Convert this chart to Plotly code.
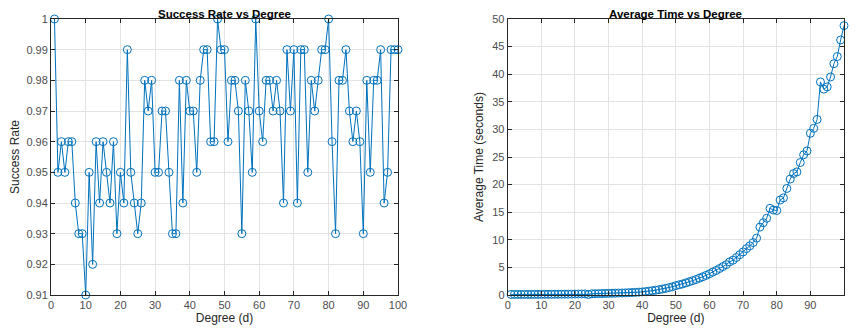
import plotly.graph_objects as go

degrees = list(range(1, 101))

success_rate = [
    1.00, 0.95, 0.96, 0.95, 0.96, 0.96, 0.94, 0.93, 0.93, 0.91,
    0.95, 0.92, 0.96, 0.94, 0.96, 0.95, 0.94, 0.96, 0.93, 0.95,
    0.94, 0.99, 0.95, 0.94, 0.93, 0.94, 0.98, 0.97, 0.98, 0.95,
    0.95, 0.97, 0.97, 0.95, 0.93, 0.93, 0.98, 0.94, 0.98, 0.97,
    0.97, 0.95, 0.98, 0.99, 0.99, 0.96, 0.96, 1.00, 0.99, 0.99,
    0.96, 0.98, 0.98, 0.97, 0.93, 0.98, 0.97, 0.95, 1.00, 0.97,
    0.96, 0.98, 0.98, 0.97, 0.98, 0.97, 0.94, 0.99, 0.97, 0.99,
    0.94, 0.99, 0.99, 0.95, 0.98, 0.97, 0.98, 0.99, 0.99, 1.00,
    0.96, 0.93, 0.98, 0.98, 0.99, 0.97, 0.96, 0.97, 0.96, 0.93,
    0.98, 0.95, 0.98, 0.98, 0.99, 0.94, 0.95, 0.99, 0.99, 0.99,
]

avg_time = [
    0.10, 0.10, 0.10, 0.10, 0.10, 0.10, 0.10, 0.11, 0.11, 0.11,
    0.12, 0.12, 0.12, 0.13, 0.13, 0.14, 0.15, 0.15, 0.16, 0.17,
    0.18, 0.19, 0.20, 0.08, 0.22, 0.23, 0.25, 0.26, 0.28, 0.29,
    0.31, 0.33, 0.35, 0.37, 0.39, 0.42, 0.45, 0.48, 0.52, 0.56,
    0.62, 0.70, 0.78, 0.87, 0.97, 1.08, 1.20, 1.35, 1.50, 1.70,
    1.85, 2.00, 2.20, 2.40, 2.60, 2.80, 3.05, 3.30, 3.55, 3.85,
    4.15, 4.45, 4.80, 5.15, 5.50, 6.00, 6.30, 6.80, 7.30, 7.80,
    8.40, 8.90, 9.50, 10.30, 12.30, 13.10, 13.90, 15.70, 15.40, 15.30,
    17.20, 17.60, 19.30, 21.00, 22.00, 22.30, 24.00, 25.40, 26.10, 29.30,
    30.20, 31.80, 38.60, 37.30, 37.70, 39.50, 41.90, 43.20, 46.20, 48.80,
]

sr_ticks = [0.91, 0.92, 0.93, 0.94, 0.95, 0.96, 0.97, 0.98, 0.99, 1.00]
sr_ticktext = ["0.91", "0.92", "0.93", "0.94", "0.95", "0.96", "0.97", "0.98", "0.99", "1"]
x_ticks = [0, 10, 20, 30, 40, 50, 60, 70, 80, 90, 100]
t_ticks = [0, 5, 10, 15, 20, 25, 30, 35, 40, 45, 50]

# page body has an 8px margin; figure size compensates for it (no scrollbars/clipping)
W, H = 842, 319
blue = "#0072BD"
font_family = "Liberation Sans, Arial, sans-serif"
tick_color = "#262626"
grid_color = "#e3e3e3"

fig = go.Figure()
fig.add_trace(go.Scatter(
    x=degrees, y=success_rate, mode="lines+markers",
    line=dict(color=blue, width=1),
    marker=dict(symbol="circle-open", size=8, color=blue, line=dict(width=1)),
    xaxis="x", yaxis="y", showlegend=False, cliponaxis=False,
))
fig.add_trace(go.Scatter(
    x=degrees, y=avg_time, mode="lines+markers",
    line=dict(color=blue, width=1),
    marker=dict(symbol="circle-open", size=8, color=blue, line=dict(width=1)),
    xaxis="x2", yaxis="y2", showlegend=False, cliponaxis=False,
))

axis_common = dict(
    showline=True, linecolor=tick_color, linewidth=1, mirror="ticks",
    ticks="inside", ticklen=4, tickcolor=tick_color, tickwidth=1,
    showgrid=True, gridcolor=grid_color, gridwidth=1, zeroline=False,
    automargin=False,
    tickfont=dict(family=font_family, size=11, color="#4d4d4d"),
)

l0, l1 = 43 / W, 390 / W
r0, r1 = 499.7 / W, 836 / W

fig.update_layout(
    width=W, height=H,
    margin=dict(l=0, r=0, t=11, b=32),
    paper_bgcolor="white", plot_bgcolor="white",
    font=dict(family=font_family, color=tick_color),
    xaxis=dict(domain=[l0, l1], range=[0, 100], tickvals=x_ticks, anchor="y",
               title=dict(text="Degree (d)", font=dict(size=12, color=tick_color), standoff=3),
               **axis_common),
    yaxis=dict(domain=[0, 1], range=[0.91, 1.0], tickvals=sr_ticks, ticktext=sr_ticktext, anchor="x",
               title=dict(text="Success Rate", font=dict(size=12, color=tick_color), standoff=6),
               **axis_common),
    xaxis2=dict(domain=[r0, r1], range=[0, 100], tickvals=x_ticks, anchor="y2",
                title=dict(text="Degree (d)", font=dict(size=12, color=tick_color), standoff=3),
                **axis_common),
    yaxis2=dict(domain=[0, 1], range=[0, 50], tickvals=t_ticks, anchor="x2",
                title=dict(text="Average Time (seconds)", font=dict(size=12, color=tick_color), standoff=6),
                **axis_common),
    annotations=[
        dict(text="<b>Success Rate vs Degree</b>", x=(l0 + l1) / 2, y=1, xref="paper", yref="paper",
             xanchor="center", yanchor="bottom", yshift=-3, showarrow=False,
             font=dict(family=font_family, size=11.5, color="black")),
        dict(text="<b>Average Time vs Degree</b>", x=(r0 + r1) / 2, y=1, xref="paper", yref="paper",
             xanchor="center", yanchor="bottom", yshift=-3, showarrow=False,
             font=dict(family=font_family, size=11.5, color="black")),
    ],
)

fig.write_html("out.html")
